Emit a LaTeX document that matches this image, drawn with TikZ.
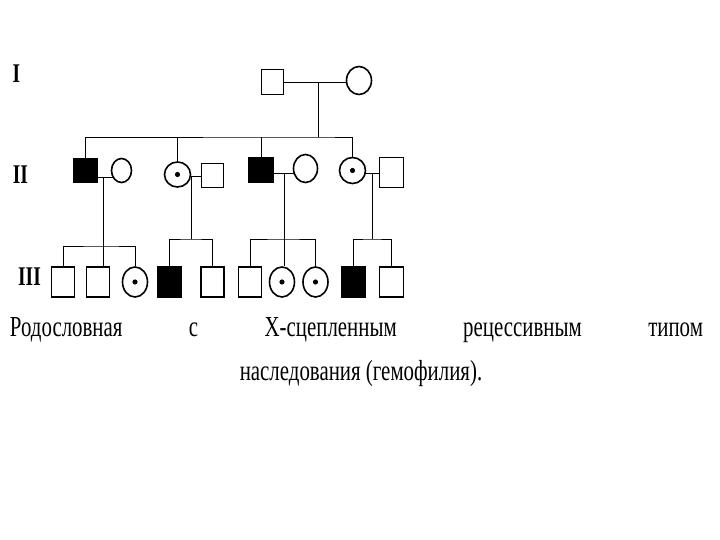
\documentclass[tikz,border=0pt]{standalone}
\usepackage{fontspec}
\setmainfont{Liberation Serif}
\newfontfamily\narrowfont[FakeStretch=0.72]{Liberation Serif}
\usetikzlibrary{shapes.geometric, backgrounds}

\begin{document}
\begin{tikzpicture}[x=0.5pt, y=-0.5pt, line width=0.8pt,
      male/.style={rectangle, draw, fill=white, inner sep=0pt, minimum width=11.5pt, minimum height=15pt},
      sick/.style={male, fill=black},
      female/.style={ellipse, draw, fill=white, inner sep=0pt, minimum width=12.5pt, minimum height=15pt},
      carrier/.style={female, path picture={\fill[black] (path picture bounding box.center) circle (1.3pt);}},
      gen/.style={font=\narrowfont\bfseries\fontsize{13.5}{13.5}\selectfont},
      caption/.style={font=\narrowfont\fontsize{14.5}{22}\selectfont, anchor=base}
    ]
      \useasboundingbox (0,0) rectangle (720,540);

      % generation labels
      \node[gen] (g1) at (16.5,73.5) {I};
      \node[gen] (g2) at (20.5,175) {II};
      \node[gen] (g3) at (29.5,276.5) {III};

      % generation I
      \node[male, minimum width=11pt, minimum height=12.5pt] (I1) at (272.5,82) {};
      \node[female, minimum width=12.5pt, minimum height=14pt] (I2) at (359,80.5) {};

      % generation II
      \node[sick, minimum width=12pt, minimum height=12pt] (II1) at (85.5,170.5) {};
      \node[female, minimum width=10pt, minimum height=12pt] (II1w) at (121.5,170.5) {};
      \node[carrier, minimum width=13pt, minimum height=12.5pt] (II2) at (177.5,174.5) {};
      \node[male, minimum width=11pt, minimum height=12pt] (II2h) at (212.5,175.5) {};
      \node[sick, minimum width=12.5pt, minimum height=12.5pt] (II3) at (261,170) {};
      \node[female, minimum width=12pt, minimum height=14pt] (II3w) at (305.5,168.5) {};
      \node[carrier, minimum width=13pt, minimum height=13pt] (II4) at (352.5,170.5) {};
      \node[male, minimum width=12pt, minimum height=15pt] (II4h) at (391.5,172.5) {};

      % generation III
      \node[male] (III1) at (63,282) {};
      \node[male] (III2) at (98,282) {};
      \node[carrier] (III3) at (135,282) {};
      \node[sick] (III4) at (169.5,282) {};
      \node[male] (III5) at (212.5,282) {};
      \node[male] (III6) at (250,282) {};
      \node[carrier] (III7) at (282,282) {};
      \node[carrier] (III8) at (315.5,282) {};
      \node[sick, minimum width=12pt] (III9) at (353.5,282) {};
      \node[male, minimum width=12pt] (III10) at (391.5,282) {};

      \coordinate (m0) at (318,82);
      \coordinate (s0) at (318,137);
      \coordinate (m1) at (103,177);
      \coordinate (s1) at (103,246);
      \coordinate (m2) at (191,176);
      \coordinate (s2) at (191,239);
      \coordinate (m3) at (284,173);
      \coordinate (s3) at (284,239);
      \coordinate (m4) at (372,173);
      \coordinate (s4) at (372,239);

      \begin{scope}[on background layer]
        \draw (I1) -- (m0 -| I2);
        \draw (m0) -- (s0);
        \draw (II1.north) |- (s0) -| (II4.north);
        \draw (II2.north) -- (II2.north |- s0);
        \draw (II3.north) -- (II3.north |- s0);

        \draw (m1 -| II1) -- (m1 -| II1w);
        \draw (m2 -| II2) -- (m2 -| II2h);
        \draw (m3 -| II3) -- (m3 -| II3w);
        \draw (m4 -| II4) -- (m4 -| II4h);

        \draw (m1) -- (m1 |- III2.north);
        \draw (III1.north) |- (s1) -| (III3.north);
        \draw (m2) -- (s2);
        \draw (III4.north) |- (s2) -| (III5.north);
        \draw (m3) -- (m3 |- III7.north);
        \draw (III6.north) |- (s3) -| (III8.north);
        \draw (m4) -- (s4);
        \draw (III9.north) |- (s4) -| (III10.north);
      \end{scope}

      \node[caption] (cap1) at (356.5,337) {\makebox[346.5pt][s]{Родословная с Х-сцепленным рецессивным типом}};
      \node[caption] (cap2) at (361,381) {наследования (гемофилия).};
    \end{tikzpicture}
\end{document}
